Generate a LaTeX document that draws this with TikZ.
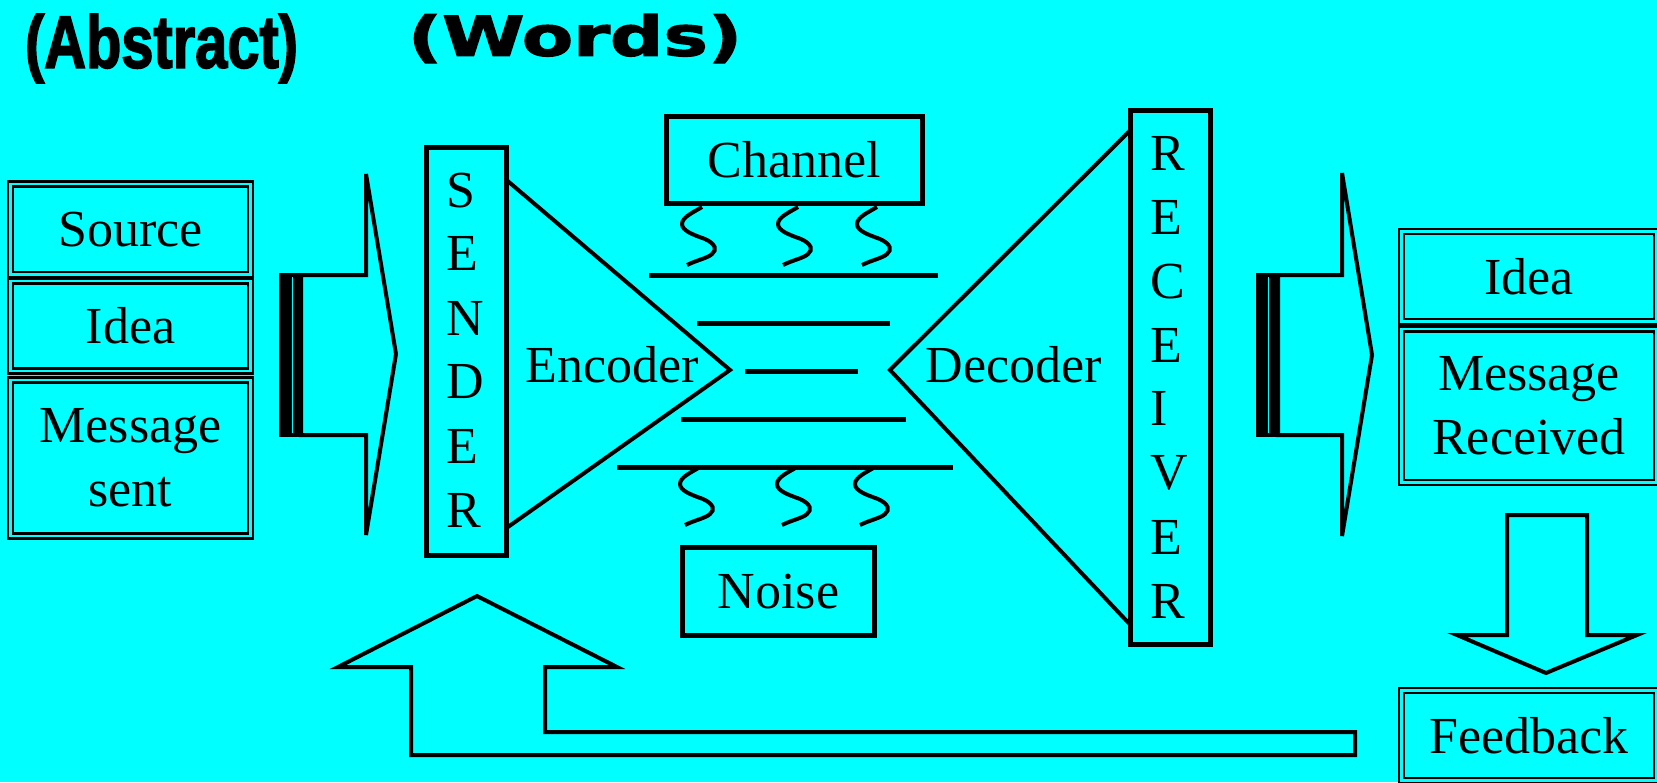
\documentclass[tikz,border=0pt]{standalone}
\usepackage{fontspec}
\usepackage{graphicx}
\setmainfont{Liberation Serif}
\newfontfamily\narrowfont{Liberation Sans}[FakeBold=2.5]
\newfontfamily\widefont{DejaVu Sans}[FakeBold=2]
\definecolor{bg}{RGB}{0,255,255}
\begin{document}
\begin{tikzpicture}[x=0.5pt,y=-0.5pt,
  every node/.style={inner sep=0pt, outer sep=0pt},
  main/.style={font=\fontsize{26}{32}\selectfont},
  dbox/.style={main, draw, double=bg, double distance=1.2pt, line width=1.2pt, fill=bg, align=center},
  sbox/.style={main, draw, line width=2.5pt, fill=bg},
  letter/.style={main, anchor=base west},
  edge/.style={line width=2pt, line join=miter},
  wire/.style={line width=2.5pt},
  squig/.style={line width=2pt},
  arrowshape/.style={draw, line width=2pt, fill=bg, line join=miter},
  squiggle/.pic={\draw[squig] (0,0) .. controls (-8,5) and (-20,10) .. (-20,17)
     .. controls (-20,24) and (-8,28) .. (3,32) .. controls (14,37) and (15,43) .. (10,47)
     .. controls (6,51) and (-5,53) .. (-15,58);}
]
\fill[bg] (0,0) rectangle (1657,782);
\useasboundingbox (0,0) rectangle (1657,782);

% titles
\node[anchor=north west] (abstract) at (25,14) {\resizebox*{136.5pt}{34.5pt}{\narrowfont\bfseries (Abstract)}};
\node[anchor=north west] (words) at (408,14) {\resizebox*{167pt}{24.5pt}{\widefont\bfseries (Words)}};

% left boxes
\node[dbox, minimum width=120pt, minimum height=45.25pt] (source) at (130.5,229.25) {Source};
\node[dbox, minimum width=120pt, minimum height=45pt] (ideaL) at (130.5,326) {Idea};
\node[dbox, minimum width=120pt, minimum height=78pt] (msgsent) at (130.5,458) {Message\\sent};

% left big arrow
\draw[arrowshape] (301,275) -- (366,275) -- (366,174) -- (396,354) -- (366,535) -- (366,435) -- (301,435) -- cycle;
\fill (279,273) rectangle (302,437);
\draw[bg, line width=0.5pt] (292.5,277) -- (292.5,433);

% sender
\node[sbox, minimum width=40pt, minimum height=204.25pt] (sender) at (466.5,351.25) {};
\foreach \l/\y [count=\i] in {S/207,E/270,N/335,D/398,E/463,R/527}
  \node[letter] (snd\i) at (446,\y) {\l};

% receiver
\node[sbox, minimum width=40pt, minimum height=267.25pt] (receiver) at (1170.5,377.25) {};
\foreach \l/\y [count=\i] in {R/170,E/234,C/298,E/362,I/425,V/489,E/554,R/618}
  \node[letter] (rcv\i) at (1150,\y) {\l};

% encoder / decoder triangles
\coordinate (enctip) at (730,370);
\coordinate (dectip) at (890,370);
\draw[edge] ([yshift=-16.5pt]sender.north east) -- (enctip) -- ([yshift=13.75pt]sender.south east);
\draw[edge] ([yshift=-10pt]receiver.north west) -- (dectip) -- ([yshift=9.75pt]receiver.south west);
\node[main, anchor=base] (encoder) at (612,382) {Encoder};
\node[main, anchor=base] (decoder) at (1014,382) {Decoder};

% channel and noise
\node[sbox, minimum width=128pt, minimum height=43.5pt] (channel) at (794,159.5) {Channel};
\node[sbox, minimum width=96pt, minimum height=44pt] (noise) at (778.5,591.5) {Noise};

\draw[wire] (649,275) -- (938,275);
\draw[wire] (697,323) -- (890,323);
\draw[wire] (745,371) -- (858,371);
\draw[wire] (681,419) -- (906,419);
\draw[wire] (617,467) -- (953,467);

\pic at (702,207) {squiggle};
\pic at (798,207) {squiggle};
\pic at (877,207) {squiggle};
\pic at (700,467) {squiggle};
\pic at (797,467) {squiggle};
\pic at (875,467) {squiggle};

% right big arrow
\draw[arrowshape] (1278,275) -- (1342,275) -- (1342,173) -- (1372,355) -- (1342,536) -- (1342,435) -- (1278,435) -- cycle;
\fill (1256,273) rectangle (1279,437);
\draw[bg, line width=0.5pt] (1268,277) -- (1268,433);

% right boxes
\node[dbox, minimum width=127.5pt, minimum height=45pt] (ideaR) at (1529,276.5) {Idea};
\node[dbox, minimum width=127.5pt, minimum height=76.75pt] (msgrec) at (1529,405.75) {Message\\Received};

% down arrow
\draw[arrowshape] (1507,515) -- (1587,515) -- (1587,635) -- (1637,635) -- (1546,673) -- (1457,635) -- (1507,635) -- cycle;

% feedback
\node[dbox, minimum width=127.5pt, minimum height=45pt] (feedback) at (1529,735.5) {Feedback};

% feedback return arrow
\draw[arrowshape] (1355,732) -- (545,732) -- (545,667) -- (617,667) -- (477,596) -- (338,667) -- (411,667) -- (411,755) -- (1355,755) -- cycle;
\end{tikzpicture}
\end{document}
